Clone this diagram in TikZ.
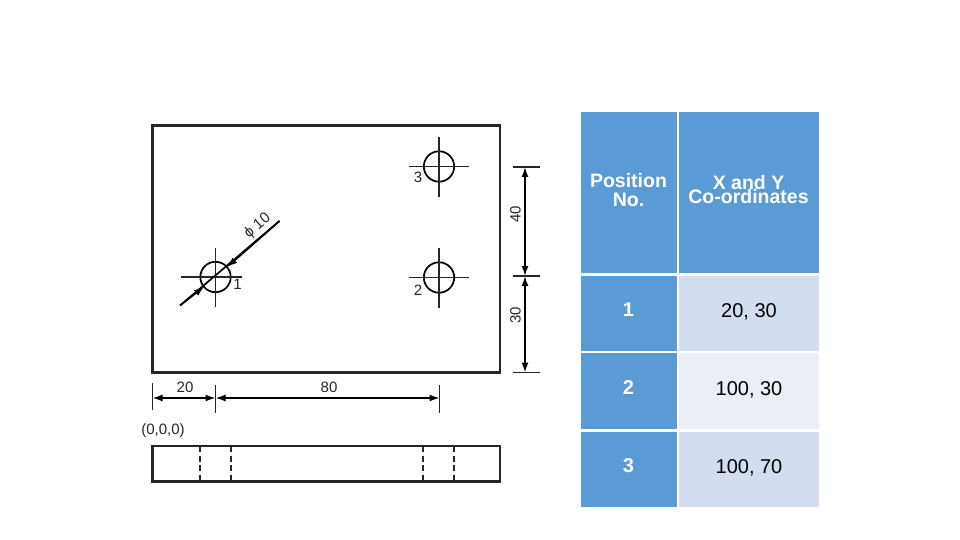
\documentclass[tikz,border=0pt]{standalone}
\usepackage{fontspec}
\setmainfont{Liberation Sans}
\usetikzlibrary{arrows.meta}
\definecolor{headblue}{RGB}{91,155,213}
\definecolor{rowdark}{RGB}{210,222,239}
\definecolor{rowlight}{RGB}{234,239,247}
\tikzset{
	part/.style={draw=black!85,line width=2.3pt},
	thinline/.style={draw=black!85,line width=1.3pt},
	holeline/.style={draw=black,line width=1.7pt},
	dimline/.style={draw=black,line width=1.6pt,{Latex[length=10pt,width=7pt]}-{Latex[length=10pt,width=7pt]}},
	hidden/.style={draw=black!85,line width=1.8pt,dash pattern=on 6pt off 3.5pt},
	dimtext/.style={inner sep=0pt,text=black!85,font=\fontsize{15}{15}\selectfont},
	cell/.style={inner sep=0pt,minimum height=0pt,align=center,anchor=center},
}
\begin{document}
\begin{tikzpicture}[x=1pt,y=-1pt]
	\useasboundingbox (0,0) rectangle (960,540);
	% plate, front view
	\draw[part] (152.5,125.5) rectangle (500,372.5);
	% holes
	\foreach \nm/\cx/\cy/\lft in {one/215.5/277/35,two/439/277.5/30,three/439/166.5/30}{
		\coordinate (\nm) at (\cx,\cy);
		\coordinate (\nm w) at (\cx-\lft,\cy);
		\coordinate (\nm e) at (\cx+\ifnum\lft=35 26\else 29.5\fi,\cy);
		\coordinate (\nm n) at (\cx,\cy-29.5);
		\coordinate (\nm s) at (\cx,\cy+30);
		\draw[holeline] (\nm) circle (15.2);
		\draw[thinline] (\nm w)--(\nm e);
		\draw[thinline] (\nm n)--(\nm s);
	}
	\node[dimtext] (numone) at (237.5,284.5) {1};
	\node[dimtext] (numtwo) at (418,290) {2};
	\node[dimtext] (numthree) at (418,177) {3};
	% leader for the diameter
	\coordinate (leadlow) at (180,305.5);
	\coordinate (leadhigh) at (279.5,221);
	\coordinate (tiplow) at (204,286.8);
	\coordinate (tiphigh) at (227.2,267);
	\draw[holeline] (leadlow)--(leadhigh);
	\draw[holeline,-{Latex[length=10pt,width=7pt]}] (leadlow)--(tiplow);
	\draw[holeline,-{Latex[length=10pt,width=7pt]}] (leadhigh)--(tiphigh);
	\node[dimtext,rotate=40] (diam) at (257.5,226) {ϕ 10};
	% right dimensions
	\coordinate (rtop) at (525,167);
	\coordinate (rmid) at (525,276);
	\coordinate (rlow) at (525,372.5);
	\foreach \pt in {rtop,rmid,rlow}
		\draw[thinline] ([xshift=-12pt]\pt)--([xshift=15pt]\pt);
	\draw[dimline] (rtop)--(rmid);
	\draw[dimline] (rmid)--(rlow);
	\node[dimtext,rotate=90] (dimforty) at (515.5,214) {40};
	\node[dimtext,rotate=90] (dimthirty) at (515.5,315) {30};
	% lower dimensions
	\coordinate (ba) at (152.5,398);
	\coordinate (bb) at (215.5,398);
	\coordinate (bc) at (439.5,398);
	\draw[thinline] ([yshift=-12pt]ba)--([yshift=15pt]ba);
	\draw[thinline] ([yshift=-15pt]bb)--([yshift=13pt]bb);
	\draw[thinline] ([yshift=-15pt]bc)--([yshift=13pt]bc);
	\draw[dimline] (ba)--(bb);
	\draw[dimline] (bb)--(bc);
	\node[dimtext] (dimtwenty) at (185,387.5) {20};
	\node[dimtext] (dimeighty) at (329,387.5) {80};
	\node[dimtext] (origin) at (163,431) {(0,0,0)};
	% side view
	\draw[part] (152.5,446) rectangle (500,481.5);
	\foreach \hx in {200,231,423,454}
		\draw[hidden] (\hx,446)--(\hx,481.5);
	% table
	\fill[headblue] (581,112) rectangle (677,273);
	\fill[headblue] (679,112) rectangle (819,273);
	\fill[headblue] (581,276) rectangle (677,351);
	\fill[rowdark] (679,276) rectangle (819,351);
	\fill[headblue] (581,353) rectangle (677,429);
	\fill[rowlight] (679,353) rectangle (819,429);
	\fill[headblue] (581,432) rectangle (677,507);
	\fill[rowdark] (679,432) rectangle (819,507);
	\node[cell,white,font=\fontsize{19.5}{19}\selectfont\bfseries] (posa) at (628.5,181) {Position};
	\node[cell,white,font=\fontsize{19.5}{19}\selectfont\bfseries] (posb) at (628.5,200) {No.};
	\node[cell,white,font=\fontsize{19.5}{19}\selectfont\bfseries] (coa) at (748.5,183) {X and Y};
	\node[cell,white,font=\fontsize{19.5}{19}\selectfont\bfseries] (cob) at (748.5,197) {Co-ordinates};
	\foreach \nm/\ry/\pos/\val in {ra/310/1/{20, 30},rb/388/2/{100, 30},rc/466/3/{100, 70}}{
		\node[cell,white,font=\fontsize{20}{20}\selectfont\bfseries] (\nm pos) at (628.5,\ry) {\pos};
		\node[cell,black,font=\fontsize{20}{20}\selectfont] (\nm val) at (749,\ry+1.5) {\val};
	}
\end{tikzpicture}
\end{document}
